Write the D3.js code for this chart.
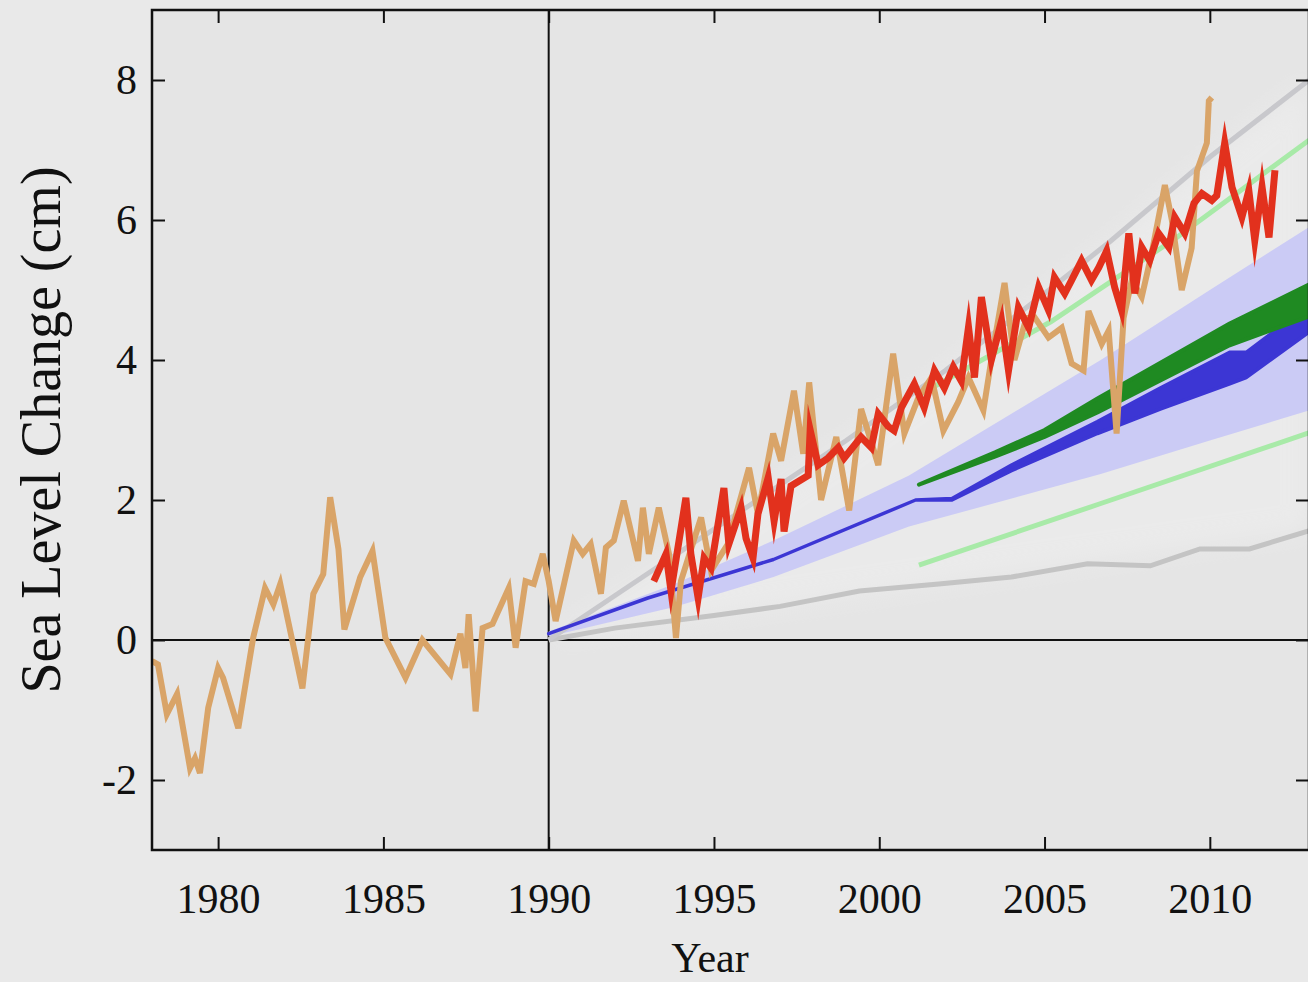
<!DOCTYPE html>
<html lang="en">
<head>
<meta charset="UTF-8">
<title>Sea Level Change</title>
<script src="https://d3js.org/d3.v7.min.js"></script>
<style>
  html, body { margin: 0; padding: 0; background: #e9e9e9; }
  svg { display: block; }
  text { font-family: "Liberation Serif", "DejaVu Serif", serif; fill: #111; }
  .tick line { stroke: #111; stroke-width: 2px; }
  .tick text { font-size: 42px; }
</style>
</head>
<body>
<svg width="1308" height="982"></svg>
<script>
// tide gauge record (tan)
const tanYears = [1978.00,1978.18,1978.45,1978.76,1979.15,1979.30,1979.45,1979.70,1980.00,1980.15,
  1980.61,1981.06,1981.42,1981.67,1981.88,1982.55,1982.88,1983.18,1983.39,1983.64,1983.82,1984.30,
  1984.67,1985.06,1985.67,1986.18,1987.03,1987.33,1987.48,1987.58,1987.79,1988.00,1988.30,1988.79,
  1989.00,1989.30,1989.55,1989.82,1990.00,1990.21,1990.76,1991.03,1991.27,1991.58,1991.73,1991.97,
  1992.27,1992.70,1992.85,1993.03,1993.33,1993.64,1993.85,1994.00,1994.61,1994.91,1995.42,1996.06,
  1996.33,1996.79,1997.03,1997.42,1997.70,1997.88,1998.24,1998.70,1999.09,1999.45,1999.97,2000.42,
  2000.76,2001.18,2001.58,2001.94,2002.39,2002.70,2003.15,2003.39,2003.79,2004.09,2004.45,2004.70,
  2005.12,2005.52,2005.82,2006.18,2006.33,2006.73,2006.94,2007.18,2007.39,2007.64,2007.94,2008.24,
  2008.64,2008.85,2009.15,2009.45,2009.61,2009.91,2009.97,2010.06];
const tanCm = [-0.30,-0.35,-1.06,-0.77,-1.83,-1.69,-1.90,-0.97,-0.40,-0.54,
  -1.26,0.03,0.74,0.51,0.80,-0.69,0.66,0.94,2.04,1.30,0.15,0.90,
  1.27,0.03,-0.54,0.00,-0.49,0.09,-0.40,0.37,-1.02,0.17,0.23,0.74,
  -0.11,0.84,0.80,1.23,0.84,0.27,1.42,1.23,1.37,0.66,1.32,1.42,
  1.99,1.13,1.89,1.23,1.89,1.23,0.03,0.84,1.75,0.99,1.37,2.46,
  1.80,2.95,2.56,3.56,2.66,3.68,2.00,2.90,1.85,3.30,2.50,4.09,
  2.95,3.46,3.75,2.99,3.40,3.75,3.28,4.00,5.10,4.00,4.60,4.61,
  4.32,4.46,3.95,3.85,4.70,4.23,4.42,2.95,4.60,5.14,4.90,5.52,
  6.50,6.00,5.00,5.60,6.70,7.10,7.70,7.75];

// satellite altimetry (red)
const redYears = [1993.18,1993.55,1993.70,1994.15,1994.30,1994.52,1994.70,1994.91,1995.30,1995.45,
  1995.82,1995.97,1996.18,1996.33,1996.64,1996.82,1997.03,1997.12,1997.33,1997.85,1997.91,1998.15,
  1998.45,1998.76,1998.94,1999.45,1999.76,1999.97,2000.27,2000.45,2000.67,2001.06,2001.36,2001.67,
  2001.97,2002.24,2002.48,2002.70,2002.88,2003.09,2003.39,2003.70,2003.91,2004.21,2004.52,2004.82,
  2005.12,2005.30,2005.61,2005.82,2006.12,2006.42,2006.64,2006.88,2007.12,2007.33,2007.55,2007.73,
  2007.94,2008.18,2008.45,2008.76,2008.94,2009.24,2009.52,2009.76,2010.06,2010.21,2010.45,2010.67,
  2010.97,2011.18,2011.36,2011.58,2011.79,2011.97];
const redCm = [0.84,1.23,0.70,2.03,1.23,0.60,1.17,1.03,2.17,1.37,
  1.89,1.45,1.17,1.80,2.32,1.70,2.30,1.55,2.20,2.35,3.00,2.50,
  2.60,2.75,2.60,2.90,2.75,3.23,3.05,2.99,3.32,3.66,3.32,3.85,
  3.60,3.90,3.70,4.47,3.75,4.90,4.00,4.56,3.85,4.75,4.46,5.04,
  4.71,5.18,4.95,5.14,5.42,5.14,5.32,5.56,5.04,4.71,5.81,4.95,
  5.61,5.42,5.81,5.61,6.04,5.81,6.24,6.38,6.28,6.35,7.10,6.47,
  6.04,6.42,5.71,6.47,5.75,6.71];

// projection ranges
const lavYears = [1990, 1993.8, 1996.8, 2000.9, 2006.7, 2010, 2013];
const lavLow   = [0.05, 0.47, 0.90, 1.62, 2.37, 2.85, 3.28];
const lavHigh  = [0.12, 0.80, 1.42, 2.35, 4.00, 5.00, 5.90];

const blueYears = [1990, 1993, 1996.8, 2001.1, 2002.2, 2004, 2006.6, 2008.5, 2010.6, 2011.1, 2013];
const blueLow   = [0.09, 0.60, 1.15, 2.00, 2.00, 2.42, 2.95, 3.30, 3.66, 3.75, 4.40];
const blueHigh  = [0.09, 0.60, 1.15, 2.00, 2.02, 2.50, 3.12, 3.60, 4.11, 4.11, 4.78];

const greenYears = [2001.2, 2003.5, 2005, 2006.6, 2010.6, 2013];
const greenLow   = [2.22, 2.62, 2.90, 3.25, 4.21, 4.62];
const greenHigh  = [2.22, 2.68, 3.00, 3.45, 4.52, 5.08];

const grayHiYears = [1990, 1993, 1996, 1999, 2002, 2005, 2007, 2010, 2013];
const grayHiCm    = [0.00, 0.95, 1.90, 2.85, 3.85, 4.95, 5.70, 6.90, 8.00];
const grayLoYears = [1990, 1992, 1995, 1997, 1999.4, 2001.8, 2004, 2006.3, 2008.2, 2009.7, 2011.2, 2013];
const grayLoCm    = [0.00, 0.17, 0.35, 0.48, 0.70, 0.80, 0.90, 1.09, 1.06, 1.30, 1.30, 1.56];

const ltGreenHiYears = [2001.2, 2005.2, 2009, 2013];
const ltGreenHiCm    = [3.50, 4.55, 5.75, 7.14];
const ltGreenLoYears = [2001.2, 2006.7, 2013];
const ltGreenLoCm    = [1.07, 1.95, 2.96];

const xTicks = [1980, 1985, 1990, 1995, 2000, 2005, 2010];
const yTicks = [-2, 0, 2, 4, 6, 8];

const svg = d3.select("svg");
const x = d3.scaleLinear().domain([1978, 2013]).range([152, 1309]);
const y = d3.scaleLinear().domain([-3, 9]).range([850, 10]);

const pts = (xs, ys) => d3.zip(xs, ys);
const band = (xs, lo, hi) => xs.map((d, i) => [d, lo[i], hi[i]]);

const line = d3.line().x(d => x(d[0])).y(d => y(d[1]));
const area = d3.area().x(d => x(d[0])).y0(d => y(d[1])).y1(d => y(d[2]));

svg.append("defs").call(defs => {
  defs.append("clipPath").attr("id", "clip")
    .append("rect").attr("x", 152).attr("y", 10).attr("width", 1157).attr("height", 840);
  defs.append("filter").attr("id", "soft").attr("x", "-10%").attr("y", "-10%")
    .attr("width", "120%").attr("height", "120%")
    .append("feGaussianBlur").attr("stdDeviation", 12);
});

svg.append("rect").attr("x", 152).attr("y", 10).attr("width", 1157).attr("height", 840)
  .attr("fill", "#e5e5e5");

const plot = svg.append("g").attr("clip-path", "url(#clip)");

// faint pale halo between the outer projection lines
const loAt = d => d3.interpolateNumber(0, 1.56)((d - 1990) / 23);
plot.append("path")
  .datum(band(grayHiYears, grayHiYears.map(loAt), grayHiCm))
  .attr("d", area).attr("fill", "#f2f2f2").attr("opacity", 0.45).attr("filter", "url(#soft)");

// reference lines
plot.append("line").attr("x1", x(1990)).attr("x2", x(1990)).attr("y1", 10).attr("y2", 850)
  .attr("stroke", "#111").attr("stroke-width", 2);
plot.append("line").attr("x1", 152).attr("x2", 1309).attr("y1", y(0)).attr("y2", y(0))
  .attr("stroke", "#111").attr("stroke-width", 2);

plot.append("path").datum(band(lavYears, lavLow, lavHigh))
  .attr("d", area).attr("fill", "#cbcbf5");

plot.append("path").datum(pts(grayLoYears, grayLoCm)).attr("d", line)
  .attr("fill", "none").attr("stroke", "#c4c4c4").attr("stroke-width", 5);
plot.append("path").datum(pts(grayHiYears, grayHiCm)).attr("d", line)
  .attr("fill", "none").attr("stroke", "#c8c8cc").attr("stroke-width", 5);
plot.append("path").datum(pts(ltGreenLoYears, ltGreenLoCm)).attr("d", line)
  .attr("fill", "none").attr("stroke", "#a8eaa8").attr("stroke-width", 5);
plot.append("path").datum(pts(ltGreenHiYears, ltGreenHiCm)).attr("d", line)
  .attr("fill", "none").attr("stroke", "#a8eaa8").attr("stroke-width", 5);

plot.append("path").datum(band(blueYears, blueLow, blueHigh))
  .attr("d", area).attr("fill", "#3c36d4").attr("stroke", "#3c36d4").attr("stroke-width", 3.5)
  .attr("stroke-linejoin", "round");
plot.append("path").datum(band(greenYears, greenLow, greenHigh))
  .attr("d", area).attr("fill", "#1f8a22").attr("stroke", "#1f8a22").attr("stroke-width", 4)
  .attr("stroke-linejoin", "round");

plot.append("path").datum(pts(tanYears, tanCm)).attr("d", line)
  .attr("fill", "none").attr("stroke", "#d9a468").attr("stroke-width", 6)
  .attr("stroke-linejoin", "miter");
plot.append("path").datum(pts(redYears, redCm)).attr("d", line)
  .attr("fill", "none").attr("stroke", "#e2311d").attr("stroke-width", 7)
  .attr("stroke-linejoin", "miter").attr("stroke-miterlimit", 8);

// axes, ticks pointing inward on all four sides
svg.append("g").attr("transform", "translate(0,850)")
  .call(d3.axisBottom(x).tickValues(xTicks).tickFormat(d => String(d)).tickSizeInner(-13).tickSizeOuter(0).tickPadding(33))
  .call(g => g.select(".domain").remove());
svg.append("g").attr("transform", "translate(0,10)")
  .call(d3.axisTop(x).tickValues(xTicks).tickFormat("").tickSizeInner(-13).tickSizeOuter(0))
  .call(g => g.select(".domain").remove());
svg.append("g").attr("transform", "translate(152,0)")
  .call(d3.axisLeft(y).tickValues(yTicks).tickFormat(d => String(d)).tickSizeInner(-13).tickSizeOuter(0).tickPadding(15))
  .call(g => g.select(".domain").remove());
svg.append("g").attr("transform", "translate(1309,0)")
  .call(d3.axisRight(y).tickValues(yTicks).tickFormat("").tickSizeInner(-13).tickSizeOuter(0))
  .call(g => g.select(".domain").remove());
svg.selectAll(".tick text").attr("font-family", null).attr("font-size", null).attr("fill", "#111");

svg.append("rect").attr("x", 152).attr("y", 10).attr("width", 1157).attr("height", 840)
  .attr("fill", "none").attr("stroke", "#111").attr("stroke-width", 2.5);

svg.append("text").attr("x", 710).attr("y", 972).attr("text-anchor", "middle")
  .attr("font-size", 42).text("Year");
svg.append("text").attr("transform", "translate(60,430) rotate(-90)").attr("text-anchor", "middle")
  .attr("font-size", 56).text("Sea Level Change (cm)");
</script>
</body>
</html>
